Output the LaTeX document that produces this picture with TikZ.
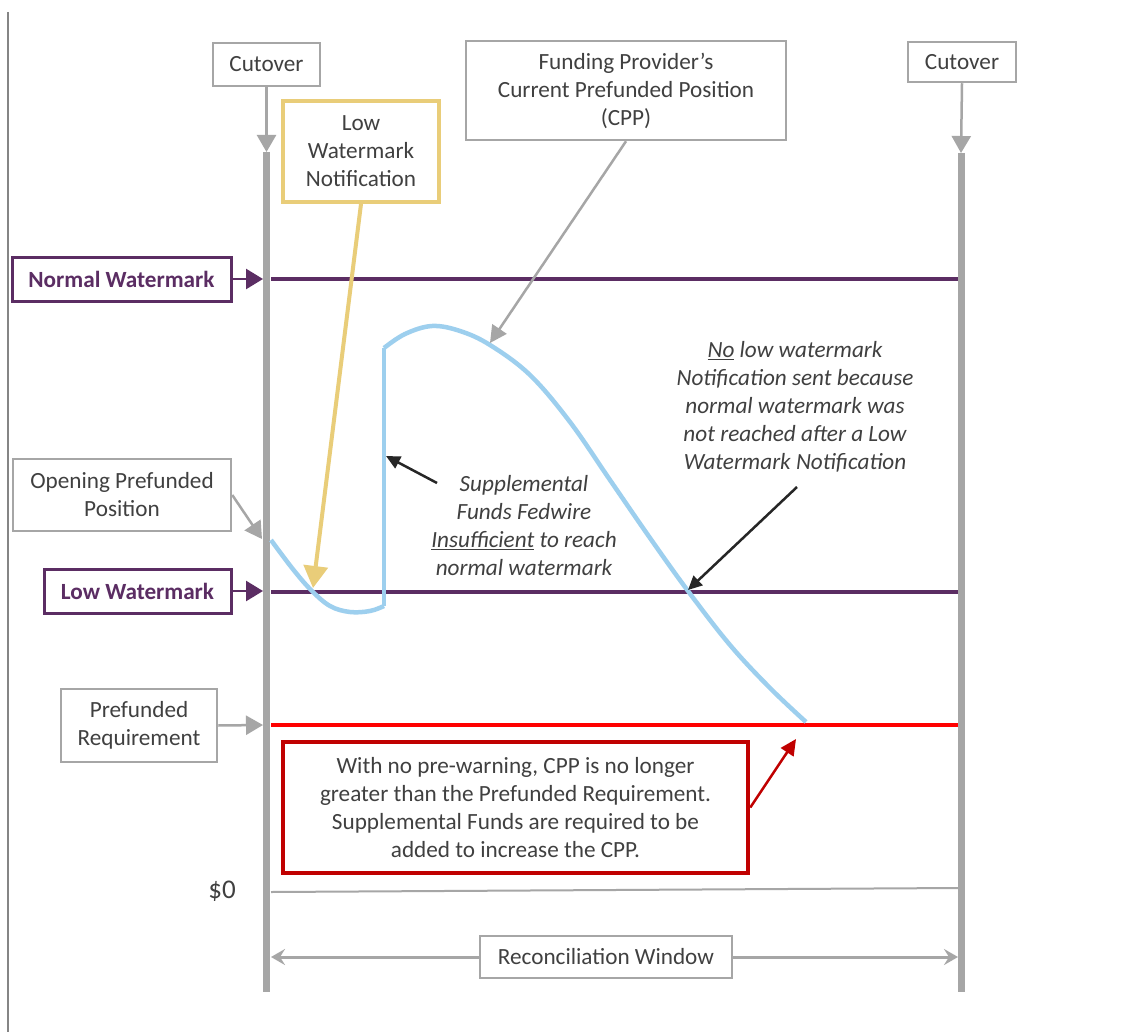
\documentclass[tikz,border=0pt]{standalone}
\usepackage{fontspec}
\setmainfont{Carlito}
\usetikzlibrary{arrows.meta}
\definecolor{tgray}{RGB}{64,64,64}
\definecolor{lgray}{RGB}{166,166,166}
\definecolor{wpurple}{RGB}{91,45,99}
\definecolor{wyellow}{RGB}{233,205,121}
\definecolor{wblue}{RGB}{157,207,238}
\definecolor{dred}{RGB}{192,0,0}
\definecolor{darr}{RGB}{38,38,38}
\begin{document}
\begin{tikzpicture}[x=1pt,y=-1pt,
  txt/.style={text=tgray, align=center, inner sep=0pt, font=\fontsize{23.2}{28}\selectfont},
  gbox/.style={txt, draw=lgray, line width=2.5pt, fill=white},
  pbox/.style={draw=wpurple, line width=3pt, fill=white, text=wpurple, inner sep=0pt, font=\fontsize{23.2}{28}\selectfont\bfseries},
  ybox/.style={txt, draw=wyellow, line width=4pt, fill=white},
  rbox/.style={txt, draw=dred, line width=4.5pt, fill=white},
  timeline/.style={draw=lgray, line width=7pt},
  garrow/.style={draw=lgray, line width=2.5pt, -{Triangle[width=19pt,length=17pt]}},
  parrow/.style={draw=wpurple, line width=2.5pt, -{Triangle[width=20pt,length=17pt]}},
  darrow/.style={draw=darr, line width=2.5pt, -{Triangle[width=13pt,length=14pt]}},
  cpparrow/.style={draw=lgray, line width=2.5pt, -{Triangle[width=17pt,length=17pt]}},
  curve/.style={draw=wblue, line width=4.5pt, line join=round},
]
\useasboundingbox (0,0) rectangle (1126,1032);
\fill[white] (0,0) rectangle (1126,1032);
% left border
\draw[lgray!80!black, line width=1.2pt] (8,12) -- (8,1032);

% timelines
\coordinate (tlTop) at (266.5,152);
\coordinate (tlBot) at (266.5,992);
\coordinate (trTop) at (961,153);
\coordinate (trBot) at (961,992);
\draw[timeline] (tlTop) -- (tlBot);
\draw[timeline] (trTop) -- (trBot);

% horizontal levels
\coordinate (nwL) at (271,279); \coordinate (nwR) at (958,279);
\coordinate (lwL) at (271,592); \coordinate (lwR) at (958,592);
\coordinate (prL) at (271,725); \coordinate (prR) at (958,725);
\coordinate (zL) at (271,892); \coordinate (zR) at (958,888);
\draw[wpurple, line width=4pt] (nwL) -- (nwR);
\draw[wpurple, line width=4pt] (lwL) -- (lwR);
\draw[red, line width=4pt] (prL) -- (prR);
\draw[lgray, line width=2pt] (zL) -- (zR);

% CPP curve
\draw[curve] plot[smooth, tension=0.6] coordinates {(271,540) (292,568) (311,590) (330,606) (350,612) (370,611) (384,606)};
\draw[curve] (384,606) -- (384,348);
\draw[curve] plot[smooth, tension=0.6] coordinates {(384,348) (405,334) (432,326) (460,331) (490,345) (530,375) (570,422) (610,480) (650,538) (688,591) (730,645) (770,688) (806,722)};

% boxes
\node[gbox, minimum width=107pt, minimum height=43pt] (cutL) at (266.5,64.5) {Cutover};
\node[gbox, minimum width=108pt, minimum height=40pt] (cutR) at (962,62) {Cutover};
\node[ybox, minimum width=156pt, minimum height=101pt] (lwn) at (361,151.5) {Low\\Watermark\\Notification};
\node[gbox, minimum width=320pt, minimum height=99pt] (cpp) at (626,90.5) {Funding Provider’s\\Current Prefunded Position\\(CPP)};
\node[pbox, minimum width=219pt, minimum height=44pt] (nw) at (121.5,279) {Normal Watermark};
\node[pbox, minimum width=187pt, minimum height=44pt] (lw) at (137.5,591) {Low Watermark};
\node[gbox, minimum width=218pt, minimum height=72pt] (opp) at (122,495) {Opening Prefunded\\Position};
\node[gbox, minimum width=156pt, minimum height=73pt] (pr) at (139,725.5) {Prefunded\\Requirement};
\node[rbox, minimum width=465pt, minimum height=131pt] (red) at (515.5,807.5) {With no pre-warning, CPP is no longer\\greater than the Prefunded Requirement.\\Supplemental Funds are required to be\\added to increase the CPP.};
\node[gbox, minimum width=252pt, minimum height=42pt] (recon) at (606,957) {Reconciliation Window};
\node[txt, font=\fontsize{27}{30}\selectfont] (zero) at (222,891) {\$0};
\node[txt, font=\fontsize{23.2}{28}\selectfont\itshape] (nolow) at (795,407) {\underline{No} low watermark\\Notification sent because\\normal watermark was\\not reached after a Low\\Watermark Notification};
\node[txt, font=\fontsize{23.2}{28}\selectfont\itshape] (supp) at (524,526) {Supplemental\\Funds Fedwire\\\underline{Insufficient} to reach\\normal watermark};

% connectors
\draw[garrow] (cutL.south) -- (tlTop);
\draw[garrow] (cutR.south) -- (trTop);
\coordinate (nwT) at (263,279);
\coordinate (lwT) at (263,591);
\coordinate (prT) at (263,725);
\coordinate (oppT) at (262,539);
\draw[parrow] (nw.east) -- (nwT);
\draw[parrow] (lw.east) -- (lwT);
\draw[garrow] (pr.east) -- (prT);
\draw[garrow] (opp.east) -- (oppT);
\coordinate (lwnT) at (313,588);
\draw[draw=wyellow, line width=4pt, -{Triangle[width=24pt,length=22pt]}] (lwn.south) -- (lwnT);
\coordinate (cppT) at (490,343);
\draw[cpparrow] (cpp.south) -- (cppT);
\coordinate (suppS) at (437,483);
\coordinate (suppT) at (386,456);
\draw[darrow] (suppS) -- (suppT);
\coordinate (nolowS) at (797,487);
\coordinate (nolowT) at (688,590);
\draw[darrow] (nolowS) -- (nolowT);
\coordinate (redT) at (796,739);
\draw[draw=dred, line width=2.5pt, -{Triangle[width=15pt,length=16pt]}] (red.east) -- (redT);
\coordinate (rwL) at (271,957);
\coordinate (rwR) at (958,957);
\draw[draw=lgray, line width=3pt, -{Stealth[width=16pt,length=14pt,inset=5pt]}] (recon.west) -- (rwL);
\draw[draw=lgray, line width=3pt, -{Stealth[width=16pt,length=14pt,inset=5pt]}] (recon.east) -- (rwR);
\end{tikzpicture}
\end{document}
